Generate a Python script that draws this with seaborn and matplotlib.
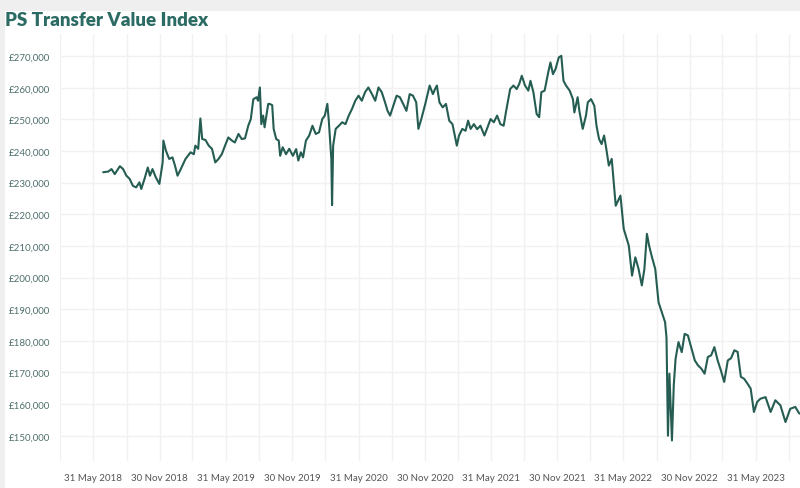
#!/usr/bin/env python3
"""PS Transfer Value Index - line chart recreated with seaborn."""

import numpy as np
import pandas as pd
import matplotlib
matplotlib.use("Agg")
import matplotlib.pyplot as plt
import matplotlib.dates as mdates
from matplotlib.patches import Rectangle
from matplotlib.ticker import FuncFormatter
import seaborn as sns

# values
dates = [
    "2018-06-27", "2018-07-11", "2018-07-20", "2018-07-29", "2018-08-12", "2018-08-21",
    "2018-08-30", "2018-09-08", "2018-09-17", "2018-09-26", "2018-10-05", "2018-10-10",
    "2018-10-19", "2018-10-28", "2018-11-03", "2018-11-10", "2018-11-19", "2018-11-29",
    "2018-12-08", "2018-12-10", "2018-12-17", "2018-12-26", "2019-01-04", "2019-01-11",
    "2019-01-18", "2019-01-27", "2019-02-09", "2019-02-23", "2019-03-04", "2019-03-08",
    "2019-03-16", "2019-03-22", "2019-03-27", "2019-04-05", "2019-04-14", "2019-04-23",
    "2019-05-02", "2019-05-11", "2019-05-20", "2019-05-29", "2019-06-07", "2019-06-17",
    "2019-06-25", "2019-07-05", "2019-07-14", "2019-07-23", "2019-08-01", "2019-08-08",
    "2019-08-15", "2019-08-24", "2019-08-28", "2019-09-02", "2019-09-06", "2019-09-11",
    "2019-09-15", "2019-09-25", "2019-09-29", "2019-10-06", "2019-10-10", "2019-10-17",
    "2019-10-24", "2019-10-28", "2019-11-04", "2019-11-13", "2019-11-22", "2019-12-02",
    "2019-12-11", "2019-12-17", "2019-12-24", "2019-12-30", "2020-01-07", "2020-01-16",
    "2020-01-25", "2020-02-03", "2020-02-12", "2020-02-21", "2020-02-28", "2020-03-06",
    "2020-03-10", "2020-03-17", "2020-03-19", "2020-03-22", "2020-03-29", "2020-04-07",
    "2020-04-16", "2020-04-25", "2020-05-04", "2020-05-13", "2020-05-22", "2020-05-31",
    "2020-06-09", "2020-06-18", "2020-06-27", "2020-07-07", "2020-07-16", "2020-07-25",
    "2020-08-03", "2020-08-12", "2020-08-19", "2020-08-26", "2020-09-04", "2020-09-13",
    "2020-09-22", "2020-10-01", "2020-10-10", "2020-10-19", "2020-10-28", "2020-11-06",
    "2020-11-12", "2020-11-20", "2020-12-01", "2020-12-13", "2020-12-22", "2020-12-28",
    "2021-01-02", "2021-01-09", "2021-01-18", "2021-01-27", "2021-02-05", "2021-02-14",
    "2021-02-26", "2021-03-04", "2021-03-13", "2021-03-22", "2021-03-29", "2021-04-05",
    "2021-04-14", "2021-04-23", "2021-05-02", "2021-05-13", "2021-05-20", "2021-05-30",
    "2021-06-08", "2021-06-17", "2021-06-26", "2021-07-05", "2021-07-12", "2021-07-23",
    "2021-08-01", "2021-08-10", "2021-08-17", "2021-08-24", "2021-09-02", "2021-09-11",
    "2021-09-17", "2021-09-25", "2021-10-04", "2021-10-11", "2021-10-17", "2021-10-26",
    "2021-11-05", "2021-11-11", "2021-11-18", "2021-11-25", "2021-12-04", "2021-12-11",
    "2021-12-17", "2021-12-24", "2022-01-03", "2022-01-12", "2022-01-16", "2022-01-25",
    "2022-01-30", "2022-02-08", "2022-02-17", "2022-02-22", "2022-03-03", "2022-03-12",
    "2022-03-18", "2022-03-25", "2022-04-01", "2022-04-08", "2022-04-14", "2022-04-21",
    "2022-04-29", "2022-05-10", "2022-05-23", "2022-06-01", "2022-06-15", "2022-06-24",
    "2022-07-03", "2022-07-12", "2022-07-21", "2022-07-28", "2022-08-04", "2022-08-10",
    "2022-08-18", "2022-08-27", "2022-09-05", "2022-09-14", "2022-09-23", "2022-09-27",
    "2022-10-01", "2022-10-05", "2022-10-12", "2022-10-17", "2022-10-22", "2022-10-30",
    "2022-11-08", "2022-11-16", "2022-11-25", "2022-12-05", "2022-12-14", "2022-12-23",
    "2023-01-01", "2023-01-10", "2023-01-19", "2023-01-28", "2023-02-06", "2023-02-15",
    "2023-02-24", "2023-03-05", "2023-03-15", "2023-03-24", "2023-04-02", "2023-04-11",
    "2023-04-20", "2023-04-29", "2023-05-08", "2023-05-17", "2023-05-26", "2023-06-04",
    "2023-06-13", "2023-06-27", "2023-07-11", "2023-07-24", "2023-08-07", "2023-08-21",
    "2023-09-03", "2023-09-17", "2023-09-28",
]

values = [
    233300, 233500, 234300, 232700, 235200, 234300,
    232200, 231200, 229000, 228500, 230100, 228000,
    231200, 234800, 232200, 234300, 231700, 229600,
    236400, 243300, 240100, 237500, 238000, 235400,
    232200, 234300, 237500, 239600, 239000, 241700,
    240700, 250300, 243800, 243500, 241700, 240700,
    236400, 237500, 239000, 241700, 244300, 243300,
    242700, 245400, 243800, 244000, 248000, 250100,
    256400, 257000, 255900, 260100, 248500, 251200,
    247500, 254900, 254900, 254500, 247000, 243800,
    243300, 238500, 241200, 239000, 240700, 238500,
    240600, 237000, 239600, 238000, 243300, 244900,
    248000, 245400, 245900, 250100, 251200, 254900,
    249600, 237500, 222900, 241700, 247000, 248000,
    249100, 248500, 251200, 253300, 255900, 257500,
    255900, 258600, 260100, 258000, 255900, 260100,
    258600, 255400, 252700, 251200, 254300, 257500,
    257000, 254900, 252700, 258000, 257500, 255400,
    247000, 250100, 254900, 260700, 258000, 259600,
    260700, 255400, 253800, 254900, 249600, 248500,
    241700, 244900, 247000, 246400, 249600, 247000,
    248500, 246900, 248000, 244900, 247000, 250100,
    249100, 251200, 248500, 248000, 252700, 259600,
    260700, 259600, 261200, 263800, 260700, 259100,
    262200, 258600, 251700, 250700, 258600, 259100,
    264900, 268000, 264300, 265900, 269600, 270100,
    262200, 260700, 259100, 256400, 252200, 257000,
    252500, 247000, 251200, 255400, 256400, 254300,
    248000, 243800, 242200, 244900, 240700, 235400,
    237500, 222700, 225900, 215400, 210100, 200600,
    206400, 202700, 197500, 202700, 213800, 210100,
    206400, 202700, 192200, 189100, 185900, 181000,
    150000, 169600, 148500, 165900, 174300, 179600,
    176400, 182200, 181700, 177500, 173800, 172200,
    171200, 169600, 174900, 175400, 178000, 173800,
    170600, 167000, 173800, 174500, 177000, 176500,
    168600, 168000, 166500, 164900, 157500, 160700,
    161700, 162200, 157500, 161200, 159600, 154300,
    158500, 159100, 157000,
]

tick_dates = [
    "2018-05-31", "2018-11-30", "2019-05-31", "2019-11-30", "2020-05-31", "2020-11-30",
    "2021-05-31", "2021-11-30", "2022-05-31", "2022-11-30", "2023-05-31",
]
grid_dates = [
    "2018-02-28", "2018-08-31", "2019-02-28", "2019-08-31", "2020-02-29", "2020-08-31",
    "2021-02-28", "2021-08-31", "2022-02-28", "2022-08-31", "2023-02-28", "2023-08-31",
]
y_ticks = list(range(150000, 280000, 10000))

TITLE = "PS Transfer Value Index"
LINE_COLOR = "#255d53"
TITLE_COLOR = "#2b6b63"


def main():
    df = pd.DataFrame({"date": pd.to_datetime(dates), "value": values})

    sns.set_theme(style="white")
    plt.rcParams["font.family"] = ["Lato", "DejaVu Sans"]

    fig = plt.figure(figsize=(8, 4.89), dpi=100)
    fig.patch.set_facecolor("#efefef")
    # white card behind the chart (screenshot shows a grey strip at top and left)
    fig.add_artist(Rectangle((5 / 800, 0), 1, 1 - 12 / 489, transform=fig.transFigure,
                             facecolor="white", edgecolor="none", zorder=0))

    ax = fig.add_axes([60 / 800, 27 / 489, 740 / 800, 427 / 489])
    ax.set_facecolor("white")

    sns.lineplot(data=df, x="date", y="value", ax=ax, color=LINE_COLOR,
                 linewidth=1.5, zorder=3)

    ax.set_xlim(pd.Timestamp("2018-03-24"), pd.Timestamp("2023-09-30"))
    ax.set_ylim(142000, 277000)

    ax.set_xticks(pd.to_datetime(tick_dates))
    ax.set_xticks(pd.to_datetime(grid_dates), minor=True)
    ax.xaxis.set_major_formatter(mdates.DateFormatter("%d %b %Y"))
    ax.set_yticks(y_ticks)
    ax.yaxis.set_major_formatter(FuncFormatter(lambda v, _: f"£{v:,.0f}"))

    ax.grid(True, which="both", axis="x", color="#f1f1f1", linewidth=1)
    ax.grid(True, which="major", axis="y", color="#f1f1f1", linewidth=1)
    ax.set_axisbelow(True)

    ax.tick_params(axis="y", labelsize=7, labelcolor="#4f6f6c", length=0, pad=7)
    ax.tick_params(axis="x", labelsize=7, labelcolor="#555555", length=0, pad=9)
    ax.tick_params(axis="x", which="minor", length=0)

    for side in ax.spines.values():
        side.set_visible(False)

    ax.set_xlabel("")
    ax.set_ylabel("")

    fig.text(5 / 800, 1 - 20 / 489, TITLE, ha="left", va="center",
             fontsize=13.5, fontweight="heavy", color=TITLE_COLOR)

    fig.savefig("out.png", dpi=100, facecolor=fig.get_facecolor())
    plt.close(fig)


if __name__ == "__main__":
    main()
